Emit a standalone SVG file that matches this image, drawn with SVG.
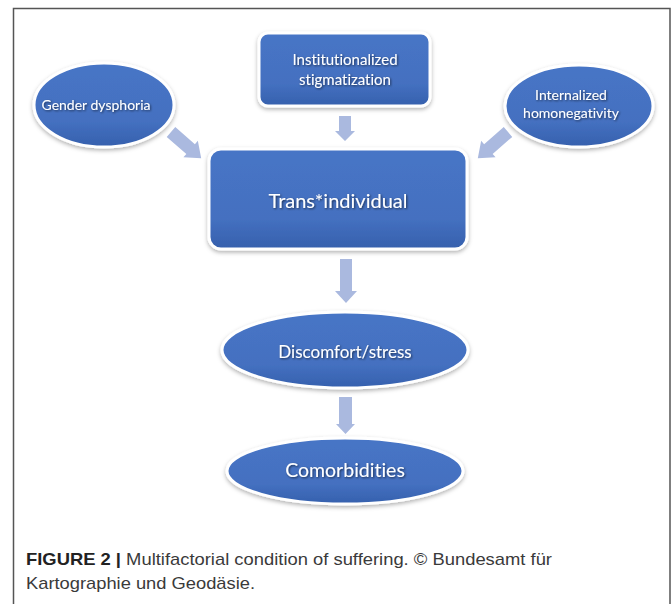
<svg xmlns="http://www.w3.org/2000/svg" width="672" height="604" viewBox="0 0 672 604">
<defs>
<linearGradient id="nodeGrad" x1="0" y1="0" x2="0" y2="1">
<stop offset="0" stop-color="#4775c6"/>
<stop offset="0.7" stop-color="#4470c0"/>
<stop offset="1" stop-color="#3560ad"/>
</linearGradient>
<filter id="nodeShadow" x="-20%" y="-20%" width="140%" height="150%">
<feDropShadow dx="0" dy="2" stdDeviation="2" flood-color="#000" flood-opacity="0.3"/>
</filter>
<filter id="textShadow" x="-10%" y="-30%" width="120%" height="160%">
<feDropShadow dx="1" dy="1" stdDeviation="0.8" flood-color="#000" flood-opacity="0.6"/>
</filter>
</defs>
<style>
.node { fill: url(#nodeGrad); stroke: #ffffff; stroke-width: 3; filter: url(#nodeShadow); }
.label { fill: #ffffff; font-family: Lato, "Open Sans", "Liberation Sans", sans-serif; text-anchor: middle; font-variant-ligatures: none; filter: url(#textShadow); }
.arrow { fill: #aab9df; }
.caption { font-family: "Liberation Sans", Arial, sans-serif; font-size: 17px; fill: #3a3a3a; }
</style>
<rect x="0" y="0" width="672" height="604" fill="#ffffff"/>
<rect x="13.5" y="8.5" width="656.5" height="620" fill="none" stroke="#555555" stroke-width="1.5"/>

<g id="connectors">
<path class="arrow" d="M0,-6.5 H26 V-11 L40,0 L26,11 V6.5 H0 Z" transform="translate(171,132) rotate(41)"/>
<path class="arrow" d="M0,-6.5 H26 V-11 L40,0 L26,11 V6.5 H0 Z" transform="translate(508,132) rotate(139)"/>
<polygon class="arrow" points="339,116 351,116 351,131 355,131 345,141 335,131 339,131"/>
<polygon class="arrow" points="340,259 352,259 352,291 357,291 346,303 335,291 340,291"/>
<polygon class="arrow" points="339,397 352,397 352,424 355,424 345.5,434 336,424 339,424"/>
</g>

<g id="gender-dysphoria">
<ellipse class="node" cx="104" cy="105" rx="70" ry="42"/>
<text class="label" x="96" y="110" font-size="14">Gender dysphoria</text>
</g>

<g id="institutionalized-stigmatization">
<rect class="node" x="259" y="33" width="171" height="73" rx="9"/>
<text class="label" x="345" y="65" font-size="15">Institutionalized</text>
<text class="label" x="345" y="85" font-size="15">stigmatization</text>
</g>

<g id="internalized-homonegativity">
<ellipse class="node" cx="579" cy="106" rx="74" ry="41"/>
<text class="label" x="571" y="100" font-size="14">Internalized</text>
<text class="label" x="571" y="118" font-size="14">homonegativity</text>
</g>

<g id="trans-individual">
<rect class="node" x="209" y="149" width="258" height="100" rx="12"/>
<text class="label" x="338" y="208" font-size="20">Trans*individual</text>
</g>

<g id="discomfort-stress">
<ellipse class="node" cx="345" cy="350" rx="123" ry="38"/>
<text class="label" x="345" y="358" font-size="17">Discomfort/stress</text>
</g>

<g id="comorbidities">
<ellipse class="node" cx="345" cy="471" rx="118" ry="33"/>
<text class="label" x="345" y="477" font-size="19.5">Comorbidities</text>
</g>

<text class="caption" x="26" y="565" textLength="526" lengthAdjust="spacingAndGlyphs"><tspan font-weight="bold" fill="#222222">FIGURE 2 | </tspan>Multifactorial condition of suffering. © Bundesamt für</text>
<text class="caption" x="26" y="589" textLength="229" lengthAdjust="spacingAndGlyphs">Kartographie und Geodäsie.</text>
</svg>
